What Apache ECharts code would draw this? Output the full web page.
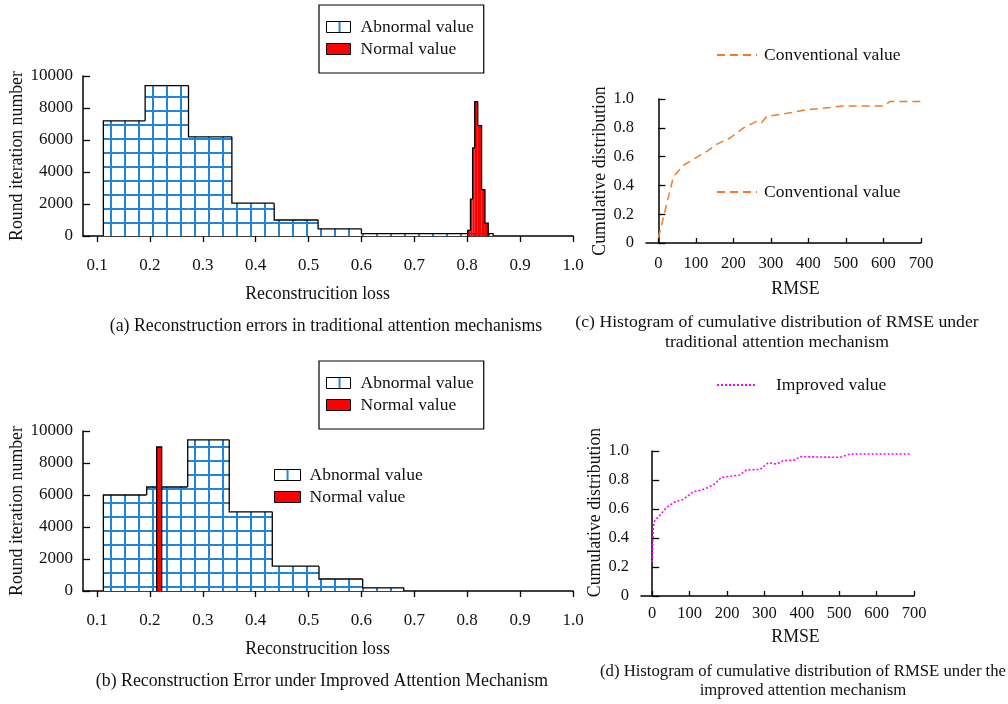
<!DOCTYPE html>
<html>
<head>
<meta charset="utf-8">
<script src="https://cdn.jsdelivr.net/npm/echarts@6/dist/echarts.min.js"></script>
<style>
  html, body { margin: 0; background: #fff; }
  #chart { width: 1008px; height: 704px; }
</style>
</head>
<body>
<div id="chart"></div>
<script>
// (a) traditional attention - histogram bin edges + counts
const edgesAbnA = [0.112, 0.191, 0.273, 0.355, 0.435, 0.518, 0.600, 0.849];
const countsAbnA = [7200, 9400, 6200, 2050, 1000, 450, 150];
const edgesNorA = [0.8008, 0.8061, 0.8102, 0.8142, 0.8199, 0.8272, 0.8335, 0.8397];
const countsNorA = [350, 2300, 5500, 8400, 6900, 2900, 800];
// (b) improved attention
const edgesAbnB = [0.112, 0.194, 0.2715, 0.350, 0.4314, 0.5197, 0.6023, 0.680];
const countsAbnB = [6000, 6500, 9450, 4950, 1550, 750, 200];
const edgesNorB = [0.2128, 0.2223];
const countsNorB = [9000];
// (c) cumulative distribution of RMSE, conventional
const rmseC = [0, 40, 67, 102, 129, 156, 191, 227, 262, 275, 289, 333, 396, 458, 493, 600, 618, 700];
const cdfC = [0.035, 0.46, 0.54, 0.595, 0.636, 0.687, 0.729, 0.80, 0.845, 0.835, 0.88, 0.896, 0.926, 0.941, 0.952, 0.952, 0.983, 0.983];
// (d) cumulative distribution of RMSE, improved
const rmseD = [0, 3, 7, 21, 38, 61, 83, 110, 132, 163, 185, 234, 252, 288, 310, 333, 350, 381, 395, 502, 529, 693];
const cdfD = [0.235, 0.477, 0.523, 0.558, 0.61, 0.65, 0.666, 0.72, 0.73, 0.765, 0.818, 0.834, 0.869, 0.873, 0.919, 0.91, 0.933, 0.938, 0.961, 0.956, 0.979, 0.979];

const lossTicks = [0.1, 0.2, 0.3, 0.4, 0.5, 0.6, 0.7, 0.8, 0.9, 1.0];
const rmseTicks = [0, 100, 200, 300, 400, 500, 600, 700];

const FONT = "'Liberation Serif', 'DejaVu Serif', serif";
const INK = '#111';

// blue grid hatch for the abnormal bars
const cell = document.createElement('canvas');
cell.width = 14; cell.height = 14;
const g = cell.getContext('2d');
g.fillStyle = '#fff';
g.fillRect(0, 0, 14, 14);
g.fillStyle = '#2285dc';
g.fillRect(12, 0, 2, 14);
g.fillRect(0, 12, 14, 2);
const hatch = { image: cell, repeat: 'repeat' };

function bins(edges, counts) {
  return counts.map((c, i) => [edges[i], edges[i + 1], c]);
}

// bars without inner borders, only the outer step line
function stepRender(fill, counts) {
  return function (params, api) {
    const i = params.dataIndex;
    const x0 = api.value(0), x1 = api.value(1), h = api.value(2);
    const tl = api.coord([x0, h]);
    const br = api.coord([x1, 0]);
    const prev = api.coord([x0, i > 0 ? counts[i - 1] : 0]);
    const pts = [[tl[0], prev[1]], tl, [br[0], tl[1]]];
    if (i === counts.length - 1) pts.push(br);
    return {
      type: 'group',
      children: [
        { type: 'rect', shape: { x: tl[0], y: tl[1], width: br[0] - tl[0], height: br[1] - tl[1] }, style: { fill: fill } },
        { type: 'polyline', shape: { points: pts }, style: { stroke: '#000', lineWidth: 1.3, fill: null } }
      ]
    };
  };
}

function histSeries(name, idx, edges, counts, fill) {
  return {
    type: 'custom',
    name: name,
    xAxisIndex: idx,
    yAxisIndex: idx,
    itemStyle: { color: fill },
    encode: { x: [0, 1], y: 2 },
    data: bins(edges, counts),
    renderItem: stepRender(fill, counts)
  };
}

const axisLineStyle = { lineStyle: { color: '#000', width: 1.5 } };
const txt = { color: INK, fontFamily: FONT, fontSize: 17 };
const nameTxt = { ...txt, fontSize: 17.8 };
const legTxt = { ...txt, fontSize: 17.5, lineHeight: 17 };

function lossAxis(idx) {
  return {
    type: 'value', gridIndex: idx, min: 0.0735, max: 1.0,
    name: 'Reconstrucition loss', nameLocation: 'middle', nameGap: 49,
    nameTextStyle: { ...nameTxt, padding: [0, 21, 0, 0] },
    axisLine: axisLineStyle,
    axisTick: { customValues: lossTicks, length: 6, lineStyle: { color: '#000', width: 1.3 } },
    axisLabel: { customValues: lossTicks, margin: 21, ...txt, formatter: v => v.toFixed(1) },
    splitLine: { show: false }
  };
}
function countAxis(idx) {
  return {
    type: 'value', gridIndex: idx, min: 0, max: 10000, interval: 2000,
    name: 'Round iteration number', nameLocation: 'middle', nameGap: 53,
    nameTextStyle: nameTxt,
    axisLine: axisLineStyle,
    axisTick: { inside: true, length: 7, lineStyle: { color: '#000', width: 1.3 } },
    axisLabel: { margin: 10, ...txt, formatter: v => String(v) },
    splitLine: { show: false }
  };
}
function rmseAxis(idx, min, margin, gap) {
  return {
    type: 'value', gridIndex: idx, min: min, max: 700,
    name: 'RMSE', nameLocation: 'middle', nameGap: gap,
    nameTextStyle: { ...nameTxt, padding: [0, 0, 0, idx === 2 ? 24 : 36] },
    axisLine: axisLineStyle,
    axisTick: { customValues: rmseTicks, inside: true, length: 5, lineStyle: { color: '#000', width: 1.3 } },
    axisLabel: { customValues: rmseTicks, margin: margin, ...txt, fontSize: 16.5 },
    splitLine: { show: false }
  };
}
function cdfAxis(idx, gap, shift) {
  return {
    type: 'value', gridIndex: idx, min: 0, max: 1, interval: 0.2,
    name: 'Cumulative distribution', nameLocation: 'middle', nameGap: gap,
    nameTextStyle: { ...nameTxt, padding: [0, 0, 0, shift] },
    axisLine: axisLineStyle,
    axisTick: { inside: true, length: 7, lineStyle: { color: '#000', width: 1.3 } },
    axisLabel: { margin: 12, ...txt, fontSize: 16.5, formatter: v => (v === 0 ? '0' : v.toFixed(1)) },
    splitLine: { show: false }
  };
}

const histLegendItems = [
  { name: 'Abnormal value', itemStyle: { color: hatch, borderColor: '#000', borderWidth: 1 } },
  { name: 'Normal value', itemStyle: { color: '#ff0000', borderColor: '#000', borderWidth: 1 } }
];
const boxLegend = {
  orient: 'vertical', itemWidth: 24, itemHeight: 11, itemGap: 4,
  icon: 'rect', padding: [13, 10, 15, 7],
  borderColor: '#000', borderWidth: 1.2,
  textStyle: { ...legTxt, padding: [0, 0, 0, 5] },
  selectedMode: false,
  data: histLegendItems
};
const lineLegend = {
  itemWidth: 40, padding: 0, selectedMode: false,
  itemStyle: { opacity: 0 },
  textStyle: { ...legTxt, padding: [0, 0, 0, 2] }
};

function caption(text, x, y, size) {
  return { type: 'text', x: x, y: y, style: { text: text, fill: INK, font: size + 'px ' + FONT, textAlign: 'center', textVerticalAlign: 'middle' } };
}

const option = {
  animation: false,
  grid: [
    { left: 83, top: 76, width: 490, height: 160 },
    { left: 83, top: 431, width: 490, height: 160 },
    { left: 646, top: 99, width: 275, height: 144 },
    { left: 641, top: 451, width: 273, height: 145 }
  ],
  xAxis: [lossAxis(0), lossAxis(1), rmseAxis(2, -33, 12, 37), rmseAxis(3, -30, 9, 32)],
  yAxis: [countAxis(0), countAxis(1), cdfAxis(2, 37, 0), cdfAxis(3, 31, 22)],
  legend: [
    { ...boxLegend, left: 319, top: 5 },
    { ...boxLegend, left: 319, top: 361 },
    { ...boxLegend, left: 274, top: 466, itemWidth: 26, borderWidth: 0, padding: 0, textStyle: { ...legTxt, padding: [0, 0, 0, 4] } },
    { ...lineLegend, left: 716, top: 46, data: ['Conventional value'] },
    { ...lineLegend, left: 716, top: 183, data: ['Conventional value'] },
    { ...lineLegend, left: 716, top: 376, textStyle: { ...legTxt, padding: [0, 0, 0, 14] }, data: ['Improved value'] }
  ],
  series: [
    histSeries('Abnormal value', 0, edgesAbnA, countsAbnA, hatch),
    histSeries('Normal value', 0, edgesNorA, countsNorA, '#ff0000'),
    histSeries('Abnormal value', 1, edgesAbnB, countsAbnB, hatch),
    histSeries('Normal value', 1, edgesNorB, countsNorB, '#ff0000'),
    {
      type: 'line', name: 'Conventional value', xAxisIndex: 2, yAxisIndex: 2,
      symbol: 'none', color: '#ee7d2b',
      lineStyle: { color: '#ee7d2b', width: 1.5, type: [8, 5] },
      data: rmseC.map((x, i) => [x, cdfC[i]])
    },
    {
      type: 'line', name: 'Improved value', xAxisIndex: 3, yAxisIndex: 3,
      symbol: 'none', color: '#ff00ff',
      lineStyle: { color: '#ff00ff', width: 1.6, type: [2, 2] },
      data: rmseD.map((x, i) => [x, cdfD[i]])
    }
  ],
  graphic: [
    caption('(a) Reconstruction errors in traditional attention mechanisms', 326, 326, 17.8),
    caption('(b) Reconstruction Error under Improved Attention Mechanism', 322, 681, 17.8),
    caption('(c) Histogram of cumulative distribution of RMSE under', 777, 322, 17.7),
    caption('traditional attention mechanism', 777, 342, 17.7),
    caption('(d) Histogram of cumulative distribution of RMSE under the', 803, 672, 16.7),
    caption('improved attention mechanism', 803, 691, 16.7)
  ]
};

const chart = echarts.init(document.getElementById('chart'));
chart.setOption(option);
</script>
</body>
</html>
